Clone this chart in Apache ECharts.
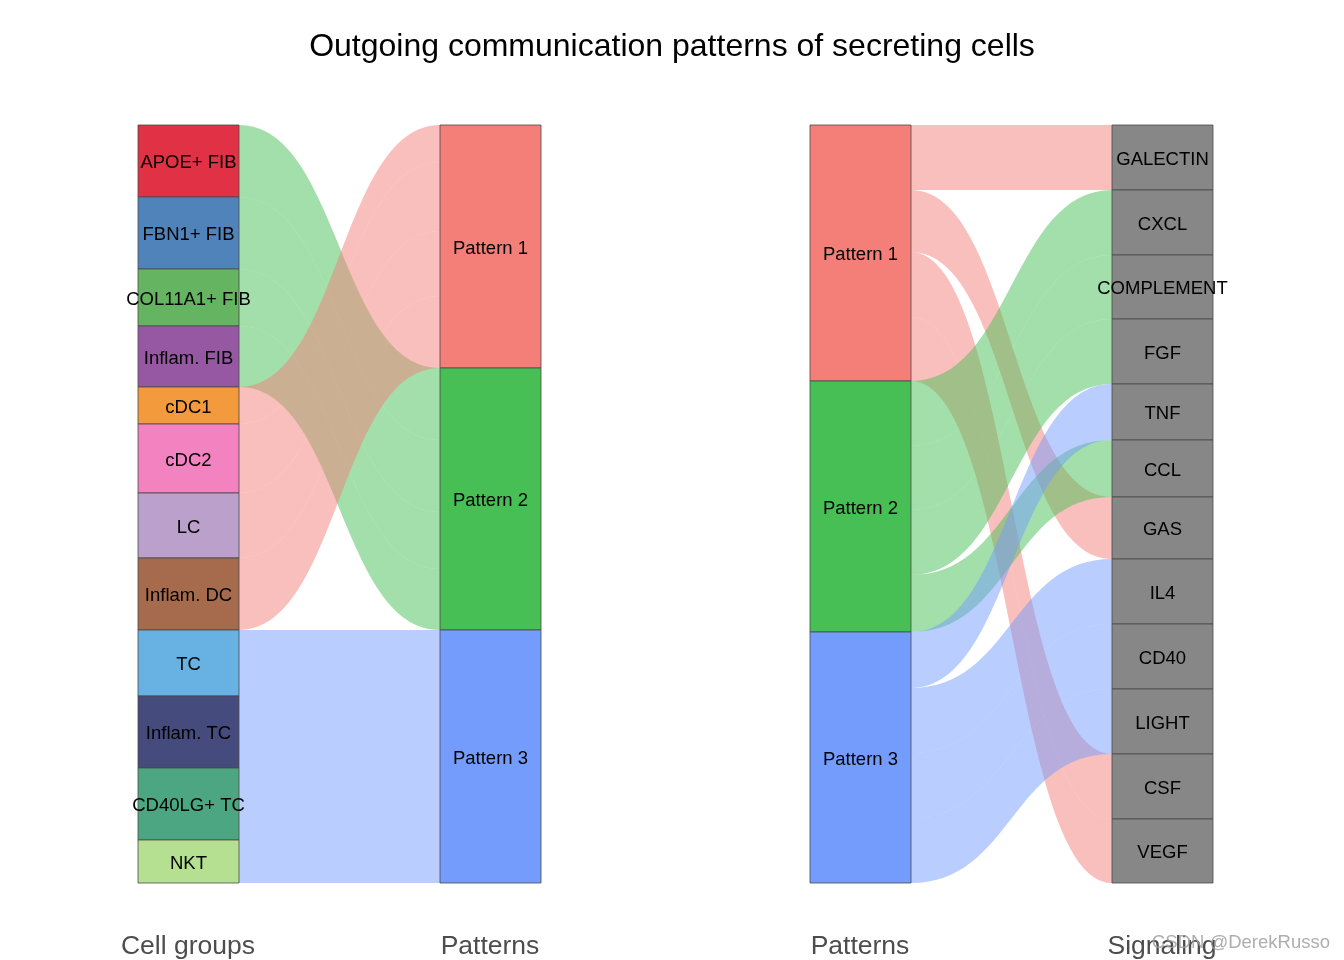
<!DOCTYPE html>
<html>
<head>
<meta charset="utf-8">
<script src="https://cdn.jsdelivr.net/npm/echarts@6/dist/echarts.min.js"></script>
<style>html,body{margin:0;padding:0;background:#fff;}#main{width:1344px;height:960px;}</style>
</head>
<body>
<div id="main"></div>
<script>
// ---- data ----
const cellGroups = ['APOE+ FIB','FBN1+ FIB','COL11A1+ FIB','Inflam. FIB','cDC1','cDC2','LC','Inflam. DC','TC','Inflam. TC','CD40LG+ TC','NKT'];
const cellValues = [72, 72, 57, 61, 37, 69, 65, 72, 66, 72, 72, 43];
const cellPattern = ['Pattern 2','Pattern 2','Pattern 2','Pattern 2','Pattern 1','Pattern 1','Pattern 1','Pattern 1','Pattern 3','Pattern 3','Pattern 3','Pattern 3'];
const cellColors = ['#E03244','#5083B9','#64B461','#9658A3','#F29A3C','#F282C0','#BBA0CB','#A66A4D','#67B2E2','#454B7C','#4CA681','#B5E092'];

const patterns = ['Pattern 1','Pattern 2','Pattern 3'];
const patternColors = ['#F47F79','#47BF55','#739CFD'];

const signaling = ['GALECTIN','CXCL','COMPLEMENT','FGF','TNF','CCL','GAS','IL4','CD40','LIGHT','CSF','VEGF'];
const signalingValues = [65, 65, 64, 65, 56, 57, 62, 65, 65, 65, 65, 64];
const signalingPattern = ['Pattern 1','Pattern 2','Pattern 2','Pattern 2','Pattern 3','Pattern 2','Pattern 1','Pattern 3','Pattern 3','Pattern 3','Pattern 1','Pattern 1'];

const axisTitles = ['Cell groups','Patterns','Patterns','Signaling'];

// ---- build ----
const FONT = "'Liberation Sans', Arial, Helvetica, sans-serif";
const pColor = name => patternColors[patterns.indexOf(name)];
const border = {borderColor:'#4a4a4a', borderWidth:0.8};

const leftNodes = cellGroups.map((n,i)=>({name:n, itemStyle:Object.assign({color:cellColors[i]}, border)}))
  .concat(patterns.map((p,i)=>({name:p, itemStyle:Object.assign({color:patternColors[i]}, border)})));
const leftLinks = cellGroups.map((n,i)=>({source:n, target:cellPattern[i], value:cellValues[i],
  lineStyle:{color:pColor(cellPattern[i]), opacity:0.5}}));

const rightNodes = patterns.map((p,i)=>({name:p, itemStyle:Object.assign({color:patternColors[i]}, border)}))
  .concat(signaling.map(s=>({name:s, itemStyle:Object.assign({color:'#878787'}, border)})));
const rightLinks = [];
patterns.forEach(p=>{
  signaling.forEach((s,j)=>{
    if (signalingPattern[j]===p) rightLinks.push({source:p, target:s, value:signalingValues[j],
      lineStyle:{color:pColor(p), opacity:0.5}});
  });
});

const common = {
  type:'sankey', top:125, height:758, width:403, nodeWidth:101, nodeGap:0,
  layoutIterations:0, draggable:false, silent:true, animation:false,
  emphasis:{disabled:true},
  label:{position:'inside', offset:[0,2], color:'#000', fontSize:18.5, fontFamily:FONT},
  lineStyle:{curveness:0.5}
};

const axisText = (i, x) => ({type:'text', x:x, y:947, style:{text:axisTitles[i], fill:'#4d4d4d', font:'26.5px '+FONT, align:'center', verticalAlign:'middle'}});

const chart = echarts.init(document.getElementById('main'));
chart.setOption({
  backgroundColor:'#fff',
  animation:false,
  title:{text:'Outgoing communication patterns of secreting cells', left:'center', top:26,
    textStyle:{fontSize:32, fontWeight:'normal', color:'#000', fontFamily:FONT}},
  series:[
    Object.assign({}, common, {name:'left', left:138, data:leftNodes, links:leftLinks}),
    Object.assign({}, common, {name:'right', left:810, data:rightNodes, links:rightLinks})
  ],
  graphic:[
    axisText(0, 188), axisText(1, 490), axisText(2, 860), axisText(3, 1162),
    {type:'text', x:1330, y:943, style:{text:'CSDN @DerekRusso', fill:'rgba(160,160,160,0.85)', font:'18.5px '+FONT, align:'right', verticalAlign:'middle'}}
  ]
});
</script>
</body>
</html>
